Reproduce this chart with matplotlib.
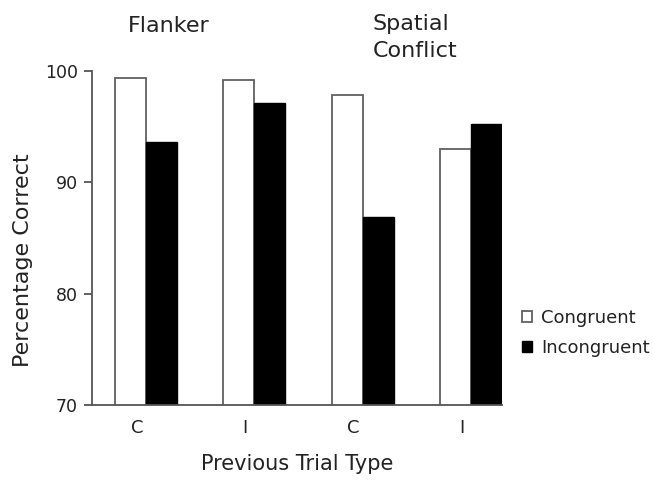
import numpy as np
import matplotlib.pyplot as plt

# Data
groups = ['C', 'I', 'C', 'I']
congruent = [99.4, 99.2, 97.8, 93.0]
incongruent = [93.6, 97.1, 86.9, 95.2]
yticks = [70, 80, 90, 100]

plt.rcParams['font.family'] = 'DejaVu Sans'
fig = plt.figure(figsize=(6.53, 4.82), dpi=100)
ax = fig.add_axes([92 / 653, 1 - 405 / 482, (502 - 92) / 653, (405 - 71) / 482])

x = np.arange(len(groups))
w = 0.287
ax.bar(x - w / 2, congruent, w, color='white', edgecolor='#606060',
       linewidth=1.3, label='Congruent')
ax.bar(x + w / 2, incongruent, w, color='black', edgecolor='black',
       linewidth=1.0, label='Incongruent')

ax.set_ylim(70, 100)
ax.set_xlim(-0.5, 3 + w)
ax.set_yticks(yticks)
ax.set_xticks(x - 0.085)
ax.set_xticklabels(groups)
ax.tick_params(axis='x', length=0, pad=10, labelsize=13, colors='#222222')
ax.tick_params(axis='y', length=6, width=1.3, pad=4, labelsize=12.5,
               colors='#555555', labelcolor='#222222')

for s in ['top', 'right']:
    ax.spines[s].set_visible(False)
for s in ['left', 'bottom']:
    ax.spines[s].set_color('#555555')
    ax.spines[s].set_linewidth(1.3)

ax.set_ylabel('Percentage Correct', fontsize=16, color='#222222')
ax.yaxis.set_label_coords(-0.144, 0.434)
ax.set_xlabel('Previous Trial Type', fontsize=15, color='#222222', labelpad=12)

fig.text(128 / 653, 1 - 32 / 482, 'Flanker', fontsize=16, color='#222222',
         ha='left', va='baseline')
fig.text(373 / 653, 1 - 14 / 482, 'Spatial\nConflict', fontsize=16,
         color='#222222', ha='left', va='top', linespacing=1.45)

fig.legend(loc='upper left', bbox_to_anchor=(522 / 653, 1 - 309 / 482),
           frameon=False, fontsize=13, handlelength=0.55, handleheight=0.55,
           handletextpad=0.5, labelspacing=0.65, borderpad=0, borderaxespad=0,
           labelcolor='#222222')

plt.savefig('out.png', dpi=100)
